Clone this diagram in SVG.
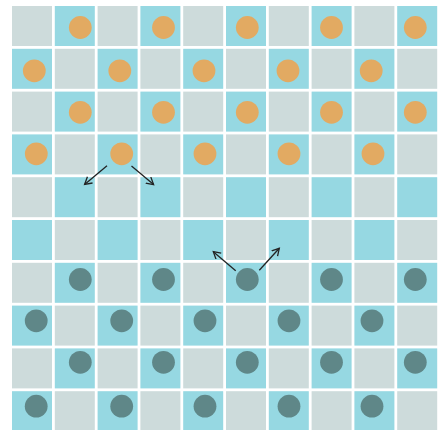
<svg xmlns="http://www.w3.org/2000/svg" width="438" height="430" viewBox="0 0 438 430">
<style>
.g{fill:#cddbdb}
.c{fill:#96d8e2}
.o{fill:#e2aa62}
.d{fill:#5f8788}
.a{stroke:#222;stroke-width:1.3;fill:none;marker-end:url(#ah)}
</style>
<defs>
<marker id="ah" markerUnits="userSpaceOnUse" markerWidth="12" markerHeight="12" refX="7.5" refY="4.5" orient="auto">
<path d="M0.5,0.5 L7.5,4.5 L0.5,8.5" fill="none" stroke="#222" stroke-width="1.3"/>
</marker>
</defs>
<rect width="438" height="430" fill="#fff"/>
<g id="board">
<rect class="g" x="12" y="6" width="40" height="40"/><rect class="c" x="54.8" y="6" width="40" height="40"/><rect class="g" x="97.6" y="6" width="40" height="40"/><rect class="c" x="140.4" y="6" width="40" height="40"/><rect class="g" x="183.2" y="6" width="40" height="40"/><rect class="c" x="226" y="6" width="40" height="40"/><rect class="g" x="268.8" y="6" width="40" height="40"/><rect class="c" x="311.6" y="6" width="40" height="40"/><rect class="g" x="354.4" y="6" width="40" height="40"/><rect class="c" x="397.2" y="6" width="40" height="40"/>
<rect class="c" x="12" y="48.8" width="40" height="40"/><rect class="g" x="54.8" y="48.8" width="40" height="40"/><rect class="c" x="97.6" y="48.8" width="40" height="40"/><rect class="g" x="140.4" y="48.8" width="40" height="40"/><rect class="c" x="183.2" y="48.8" width="40" height="40"/><rect class="g" x="226" y="48.8" width="40" height="40"/><rect class="c" x="268.8" y="48.8" width="40" height="40"/><rect class="g" x="311.6" y="48.8" width="40" height="40"/><rect class="c" x="354.4" y="48.8" width="40" height="40"/><rect class="g" x="397.2" y="48.8" width="40" height="40"/>
<rect class="g" x="12" y="91.6" width="40" height="40"/><rect class="c" x="54.8" y="91.6" width="40" height="40"/><rect class="g" x="97.6" y="91.6" width="40" height="40"/><rect class="c" x="140.4" y="91.6" width="40" height="40"/><rect class="g" x="183.2" y="91.6" width="40" height="40"/><rect class="c" x="226" y="91.6" width="40" height="40"/><rect class="g" x="268.8" y="91.6" width="40" height="40"/><rect class="c" x="311.6" y="91.6" width="40" height="40"/><rect class="g" x="354.4" y="91.6" width="40" height="40"/><rect class="c" x="397.2" y="91.6" width="40" height="40"/>
<rect class="c" x="12" y="134.4" width="40" height="40"/><rect class="g" x="54.8" y="134.4" width="40" height="40"/><rect class="c" x="97.6" y="134.4" width="40" height="40"/><rect class="g" x="140.4" y="134.4" width="40" height="40"/><rect class="c" x="183.2" y="134.4" width="40" height="40"/><rect class="g" x="226" y="134.4" width="40" height="40"/><rect class="c" x="268.8" y="134.4" width="40" height="40"/><rect class="g" x="311.6" y="134.4" width="40" height="40"/><rect class="c" x="354.4" y="134.4" width="40" height="40"/><rect class="g" x="397.2" y="134.4" width="40" height="40"/>
<rect class="g" x="12" y="177.2" width="40" height="40"/><rect class="c" x="54.8" y="177.2" width="40" height="40"/><rect class="g" x="97.6" y="177.2" width="40" height="40"/><rect class="c" x="140.4" y="177.2" width="40" height="40"/><rect class="g" x="183.2" y="177.2" width="40" height="40"/><rect class="c" x="226" y="177.2" width="40" height="40"/><rect class="g" x="268.8" y="177.2" width="40" height="40"/><rect class="c" x="311.6" y="177.2" width="40" height="40"/><rect class="g" x="354.4" y="177.2" width="40" height="40"/><rect class="c" x="397.2" y="177.2" width="40" height="40"/>
<rect class="c" x="12" y="220" width="40" height="40"/><rect class="g" x="54.8" y="220" width="40" height="40"/><rect class="c" x="97.6" y="220" width="40" height="40"/><rect class="g" x="140.4" y="220" width="40" height="40"/><rect class="c" x="183.2" y="220" width="40" height="40"/><rect class="g" x="226" y="220" width="40" height="40"/><rect class="c" x="268.8" y="220" width="40" height="40"/><rect class="g" x="311.6" y="220" width="40" height="40"/><rect class="c" x="354.4" y="220" width="40" height="40"/><rect class="g" x="397.2" y="220" width="40" height="40"/>
<rect class="g" x="12" y="262.8" width="40" height="40"/><rect class="c" x="54.8" y="262.8" width="40" height="40"/><rect class="g" x="97.6" y="262.8" width="40" height="40"/><rect class="c" x="140.4" y="262.8" width="40" height="40"/><rect class="g" x="183.2" y="262.8" width="40" height="40"/><rect class="c" x="226" y="262.8" width="40" height="40"/><rect class="g" x="268.8" y="262.8" width="40" height="40"/><rect class="c" x="311.6" y="262.8" width="40" height="40"/><rect class="g" x="354.4" y="262.8" width="40" height="40"/><rect class="c" x="397.2" y="262.8" width="40" height="40"/>
<rect class="c" x="12" y="305.6" width="40" height="40"/><rect class="g" x="54.8" y="305.6" width="40" height="40"/><rect class="c" x="97.6" y="305.6" width="40" height="40"/><rect class="g" x="140.4" y="305.6" width="40" height="40"/><rect class="c" x="183.2" y="305.6" width="40" height="40"/><rect class="g" x="226" y="305.6" width="40" height="40"/><rect class="c" x="268.8" y="305.6" width="40" height="40"/><rect class="g" x="311.6" y="305.6" width="40" height="40"/><rect class="c" x="354.4" y="305.6" width="40" height="40"/><rect class="g" x="397.2" y="305.6" width="40" height="40"/>
<rect class="g" x="12" y="348.4" width="40" height="40"/><rect class="c" x="54.8" y="348.4" width="40" height="40"/><rect class="g" x="97.6" y="348.4" width="40" height="40"/><rect class="c" x="140.4" y="348.4" width="40" height="40"/><rect class="g" x="183.2" y="348.4" width="40" height="40"/><rect class="c" x="226" y="348.4" width="40" height="40"/><rect class="g" x="268.8" y="348.4" width="40" height="40"/><rect class="c" x="311.6" y="348.4" width="40" height="40"/><rect class="g" x="354.4" y="348.4" width="40" height="40"/><rect class="c" x="397.2" y="348.4" width="40" height="40"/>
<rect class="c" x="12" y="391.2" width="40" height="40"/><rect class="g" x="54.8" y="391.2" width="40" height="40"/><rect class="c" x="97.6" y="391.2" width="40" height="40"/><rect class="g" x="140.4" y="391.2" width="40" height="40"/><rect class="c" x="183.2" y="391.2" width="40" height="40"/><rect class="g" x="226" y="391.2" width="40" height="40"/><rect class="c" x="268.8" y="391.2" width="40" height="40"/><rect class="g" x="311.6" y="391.2" width="40" height="40"/><rect class="c" x="354.4" y="391.2" width="40" height="40"/><rect class="g" x="397.2" y="391.2" width="40" height="40"/>
</g>
<g id="orange-pieces">
<circle id="o-0-1" class="o" cx="80.3" cy="27.5" r="11.4"/><circle id="o-0-3" class="o" cx="163.5" cy="27.5" r="11.4"/><circle id="o-0-5" class="o" cx="247.3" cy="27.5" r="11.4"/><circle id="o-0-7" class="o" cx="331.5" cy="27.5" r="11.4"/><circle id="o-0-9" class="o" cx="415.3" cy="27.5" r="11.4"/>
<circle id="o-1-0" class="o" cx="34.3" cy="70.8" r="11.4"/><circle id="o-1-2" class="o" cx="119.8" cy="70.8" r="11.4"/><circle id="o-1-4" class="o" cx="204" cy="70.8" r="11.4"/><circle id="o-1-6" class="o" cx="288" cy="70.8" r="11.4"/><circle id="o-1-8" class="o" cx="371.2" cy="70.8" r="11.4"/>
<circle id="o-2-1" class="o" cx="80.3" cy="112.3" r="11.4"/><circle id="o-2-3" class="o" cx="163.5" cy="112.3" r="11.4"/><circle id="o-2-5" class="o" cx="247.3" cy="112.3" r="11.4"/><circle id="o-2-7" class="o" cx="331.5" cy="112.3" r="11.4"/><circle id="o-2-9" class="o" cx="415.3" cy="112.3" r="11.4"/>
<circle id="o-3-0" class="o" cx="36.3" cy="153.8" r="11.4"/><circle id="o-3-2" class="o" cx="121.7" cy="153.8" r="11.4"/><circle id="o-3-4" class="o" cx="205" cy="153.8" r="11.4"/><circle id="o-3-6" class="o" cx="289" cy="153.8" r="11.4"/><circle id="o-3-8" class="o" cx="373" cy="153.8" r="11.4"/>
</g>
<g id="dark-pieces">
<circle id="d-6-1" class="d" cx="80.3" cy="279.5" r="11.4"/><circle id="d-6-3" class="d" cx="163.5" cy="279.5" r="11.4"/><circle id="d-6-5" class="d" cx="247.3" cy="279.5" r="11.4"/><circle id="d-6-7" class="d" cx="331.5" cy="279.5" r="11.4"/><circle id="d-6-9" class="d" cx="415.3" cy="279.5" r="11.4"/>
<circle id="d-7-0" class="d" cx="36.2" cy="320.8" r="11.4"/><circle id="d-7-2" class="d" cx="121.7" cy="320.8" r="11.4"/><circle id="d-7-4" class="d" cx="205" cy="320.8" r="11.4"/><circle id="d-7-6" class="d" cx="289" cy="320.8" r="11.4"/><circle id="d-7-8" class="d" cx="372" cy="320.8" r="11.4"/>
<circle id="d-8-1" class="d" cx="80.3" cy="362.3" r="11.4"/><circle id="d-8-3" class="d" cx="163.5" cy="362.3" r="11.4"/><circle id="d-8-5" class="d" cx="247.3" cy="362.3" r="11.4"/><circle id="d-8-7" class="d" cx="331.5" cy="362.3" r="11.4"/><circle id="d-8-9" class="d" cx="415.3" cy="362.3" r="11.4"/>
<circle id="d-9-0" class="d" cx="36.2" cy="406.2" r="11.4"/><circle id="d-9-2" class="d" cx="121.7" cy="406.2" r="11.4"/><circle id="d-9-4" class="d" cx="205" cy="406.2" r="11.4"/><circle id="d-9-6" class="d" cx="289" cy="406.2" r="11.4"/><circle id="d-9-8" class="d" cx="372" cy="406.2" r="11.4"/>
</g>
<g id="connectors">
<line class="a" x1="107" y1="165.8" x2="84.6" y2="184.4"/>
<line class="a" x1="131.5" y1="166" x2="153.6" y2="184.6"/>
<line class="a" x1="235.7" y1="270.7" x2="213.3" y2="251.7"/>
<line class="a" x1="259.3" y1="270.3" x2="279.3" y2="248.3"/>
</g>
</svg>
